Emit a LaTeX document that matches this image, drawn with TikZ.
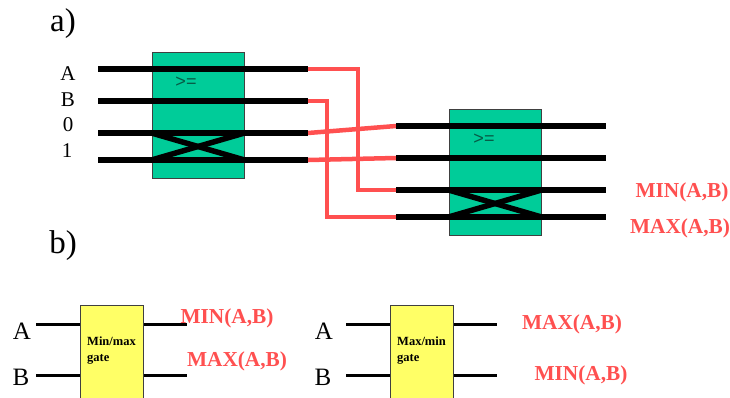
\documentclass[tikz,border=0pt]{standalone}
\usepackage{fontspec}
\setmainfont{Liberation Serif}
\newfontfamily\sansfont{Liberation Sans}
\definecolor{sorter}{HTML}{00CC99}
\definecolor{gatefill}{HTML}{FFFF66}
\definecolor{linkred}{HTML}{FF5050}
\definecolor{signdark}{HTML}{075A45}
\begin{document}
\begin{tikzpicture}[
  x=1pt,
  y=-1pt,
  sorter_box/.style={
    draw=black!75,
    line width=1pt,
    fill=sorter,
    minimum width=92pt,
    minimum height=126pt,
    inner sep=0pt
  },
  gate_box/.style={
    draw=black!75,
    line width=1pt,
    fill=gatefill,
    anchor=north west,
    minimum width=63pt,
    minimum height=96pt,
    inner sep=0pt
  },
  wire/.style={
    draw=black,
    line width=5.5pt
  },
  thin_wire/.style={
    draw=black,
    line width=3pt
  },
  link/.style={
    draw=linkred,
    line width=4.5pt,
    line join=miter,
    yshift=-1pt
  },
  sign/.style={
    font=\sansfont\fontsize{18}{18}\selectfont,
    text=signdark,
    inner sep=0pt
  },
  gate_text/.style={
    font=\bfseries\fontsize{12.5}{16}\selectfont,
    align=left,
    anchor=north west,
    inner sep=0pt
  },
  heading/.style={
    font=\fontsize{33}{33}\selectfont,
    inner sep=0pt
  },
  input/.style={
    font=\fontsize{21}{21}\selectfont,
    inner sep=0pt
  },
  gate_input/.style={
    font=\fontsize{25}{25}\selectfont,
    inner sep=0pt
  },
  result/.style={
    font=\bfseries\fontsize{21.3}{21.3}\selectfont,
    text=linkred,
    inner sep=0pt
  }
]%
\useasboundingbox (0,0) rectangle (730,397);
% sorting stages
\node [sorter_box] (stage_one) at (198,115) {};
\node [sorter_box] (stage_two) at (495,172) {};
\node [sign] (sign_one) at (186,82) {>=};
\node [sign] (sign_two) at (484,139) {>=};
% wire ends
\foreach \n/\y in {1/69,2/101,3/133,4/160} {
  \coordinate (one_in\n) at (98,\y);
  \coordinate (one_out\n) at (308,\y);
}
\foreach \n/\y in {1/126,2/158,3/190,4/217} {
  \coordinate (two_in\n) at (396,\y);
  \coordinate (two_out\n) at (606,\y);
}
\coordinate (bend_a) at (358,69);
\coordinate (bend_b) at (327,101);
% red links
\draw [link] (one_out1) -- (bend_a) |- (two_in3);
\draw [link] (one_out2) -- (bend_b) |- (two_in4);
\draw [link] (one_out3) -- (two_in1);
\draw [link] (one_out4) -- (two_in2);
% black wires
\foreach \n in {1,2,3,4} {
  \draw [wire] (one_in\n) -- (one_out\n);
  \draw [wire] (two_in\n) -- (two_out\n);
}
\draw [wire] (stage_one.west |- one_in3) -- (stage_one.east |- one_in4);
\draw [wire] (stage_one.west |- one_in4) -- (stage_one.east |- one_in3);
\draw [wire] (stage_two.west |- two_in3) -- (stage_two.east |- two_in4);
\draw [wire] (stage_two.west |- two_in4) -- (stage_two.east |- two_in3);
% labels of part a
\node [heading] (label_a) at (63,24) {a)};
\node [input] (in_a) at (68,74) {A};
\node [input] (in_b) at (68,100) {B};
\node [input] (in_zero) at (68,125) {0};
\node [input] (in_one) at (67,151) {1};
\node [result] (min_top) at (682,192) {MIN(A,B)};
\node [result] (max_top) at (680,228) {MAX(A,B)};
% part b
\node [heading] (label_b) at (63,246) {b)};
\node [gate_box] (gate_min) at (80,305) {};
\node [gate_box] (gate_max) at (390,305) {};
\node [gate_text] (text_min) at (87,337) {Min/max\\gate};
\node [gate_text] (text_max) at (397,337) {Max/min\\gate};
\foreach \g/\x/\lab in {gate_min/36/one,gate_max/346/two} {
  \coordinate (\lab_la) at (\x,324);
  \coordinate (\lab_lb) at (\x,375);
  \coordinate (\lab_ra) at (\x+151,324);
  \coordinate (\lab_rb) at (\x+151,375);
  \draw [thin_wire] (\lab_la) -- (\g.west |- \lab_la);
  \draw [thin_wire] (\lab_lb) -- (\g.west |- \lab_lb);
  \draw [thin_wire] (\g.east |- \lab_ra) -- (\lab_ra);
  \draw [thin_wire] (\g.east |- \lab_rb) -- (\lab_rb);
}
\node [gate_input] (gate_a) at (22,331) {A};
\node [gate_input] (gate_b) at (21,377) {B};
\node [gate_input] (gate_c) at (324,331) {A};
\node [gate_input] (gate_d) at (323,377) {B};
\node [result] (min_left) at (227,318) {MIN(A,B)};
\node [result] (max_left) at (237,361) {MAX(A,B)};
\node [result] (max_right) at (572,324) {MAX(A,B)};
\node [result] (min_right) at (581,375) {MIN(A,B)};
\end{tikzpicture}
\end{document}
